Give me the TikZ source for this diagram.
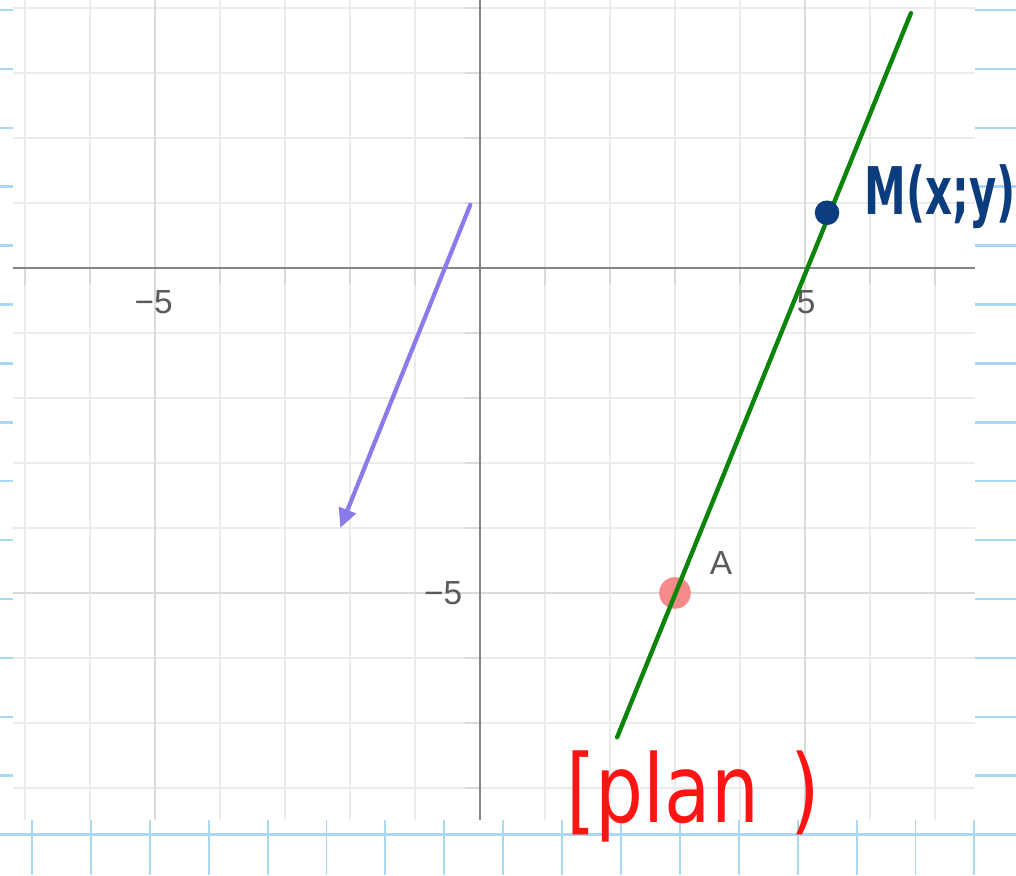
\documentclass[tikz,border=0pt]{standalone}
\usepackage{fontspec}
\usepackage{graphicx}
\setmainfont{Liberation Sans}
\newfontfamily\handfont{DejaVu Sans}
\usetikzlibrary{arrows.meta}

\definecolor{paperblue}{HTML}{A9D8F2}
\definecolor{gridgrey}{HTML}{EBEBEB}
\definecolor{gridmajor}{HTML}{DADADA}
\definecolor{axisgrey}{HTML}{858585}
\definecolor{tickgrey}{HTML}{DADADA}
\definecolor{vecpurple}{HTML}{8A7BEA}
\definecolor{linegreen}{HTML}{0A850A}
\definecolor{ptred}{HTML}{F48A8A}
\definecolor{inknavy}{HTML}{0B3D7E}
\definecolor{inkred}{HTML}{FF1414}
\definecolor{labelgrey}{HTML}{5A5A5A}

\tikzset{
  paperline/.style={draw=paperblue, line width=1.4pt},
  papertick/.style={draw=paperblue, line width=1.1pt},
  gridline/.style={draw=gridgrey, line width=1.1pt},
  gridmajorline/.style={draw=gridmajor, line width=1.2pt},
  axisline/.style={draw=axisgrey, line width=1.4pt},
  axistick/.style={draw=tickgrey, line width=1pt},
  ticklabel/.style={text=labelgrey, font=\fontsize{19}{19}\selectfont, inner sep=0pt},
  vecarrow/.style={draw=vecpurple, line width=2.4pt, line cap=round,
    -{Triangle[length=11pt, width=10pt]}},
  greenline/.style={draw=linegreen, line width=2.5pt, line cap=round},
  redpoint/.style={circle, fill=ptred, minimum size=18pt, inner sep=0pt},
  navypoint/.style={circle, fill=inknavy, minimum size=14pt, inner sep=0pt},
  navyink/.style={text=inknavy, inner sep=0pt},
  redink/.style={text=inkred, inner sep=0pt}
}

\begin{document}
\begin{tikzpicture}[x=0.02cm, y=-0.02cm]
\useasboundingbox (0,0) rectangle (1016,875);
\fill[white] (0,0) rectangle (1016,875);

% notebook paper
\foreach \k in {0,...,14} \draw[paperline] (0,{10+58.9*\k}) -- (1016,{10+58.9*\k});
\foreach \k in {0,...,16} \draw[papertick] ({32+58.9*\k},820) -- ({32+58.9*\k},875);

% graph area
\fill[white] (13,0) rectangle (975,820);

\begin{scope}[shift={(480,268)}, x=1.3cm, y=1.3cm]
  % grid
  \foreach \i in {-7,...,7} \draw[gridline] (\i,4.123) -- (\i,-8.492);
  \foreach \j in {-8,...,4} \draw[gridline] (-7.185,\j) -- (7.615,\j);
  \foreach \i in {-5,5} \draw[gridmajorline] (\i,4.123) -- (\i,-8.492);
  \draw[gridmajorline] (-7.185,-5) -- (7.615,-5);
  % ticks
  \foreach \i in {-7,...,7} \draw[axistick] (\i,0) -- (\i,-0.26);
  \foreach \j in {-8,...,4} \draw[axistick] (-0.23,\j) -- (0,\j);
  % axes
  \draw[axisline] (-7.185,0) -- (7.615,0);
  \draw[axisline] (0,4.123) -- (0,-8.492);
  % tick labels
  \node[ticklabel] (lxm5) at (-5.02,-0.52) {−5};
  \node[ticklabel] (lx5) at (5.02,-0.52) {5};
  \node[ticklabel, anchor=east] (lym5) at (-0.27,-5.0) {−5};

  % vector
  \coordinate (vs) at (-0.15,0.97);
  \coordinate (ve) at (-2.15,-4.0);
  \draw[vecarrow] (vs) -- (ve);

  % point A and line
  \node[redpoint] (A) at (3,-5) {};
  \node[text=labelgrey, font=\fontsize{19}{19}\selectfont, inner sep=0pt] (Alabel) at (3.71,-4.54) {A};
  \coordinate (gbot) at (2.11,-7.22);
  \coordinate (gtop) at (6.63,3.92);
  \draw[greenline] (gbot) -- (gtop);
  \node[navypoint] (M) at (5.34,0.85) {};
\end{scope}

% handwritten annotations
\node[navyink] (Mlabel) at (940,197) {\scalebox{0.7}[1.1]{\handfont\bfseries\fontsize{34}{34}\selectfont M(x;y)}};
\node[redink, anchor=base west] (plan) at (566,822) {\scalebox{1}[1.25]{\handfont\fontsize{43}{43}\selectfont [plan\hspace{18pt})}};
\end{tikzpicture}
\end{document}
